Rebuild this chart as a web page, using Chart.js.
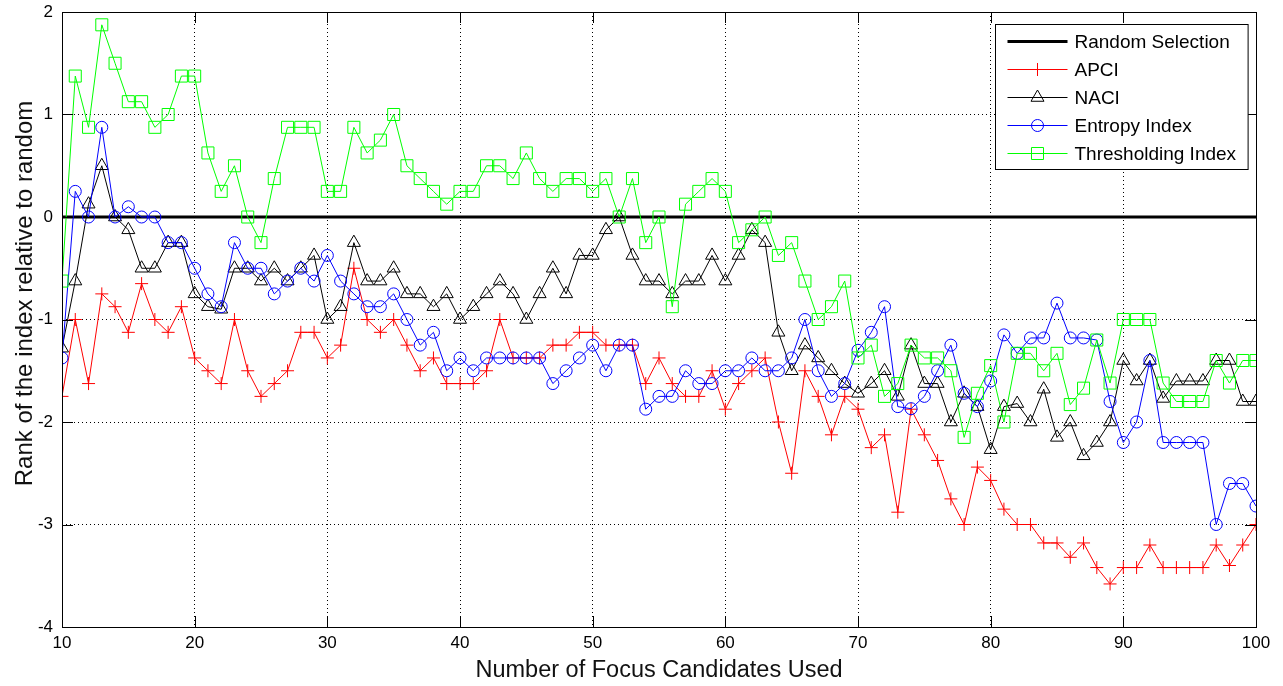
<!DOCTYPE html>
<html>
<head>
<meta charset="utf-8">
<script src="https://cdn.jsdelivr.net/npm/chart.js@4.4.1/dist/chart.umd.min.js"></script>
<style>
  html, body { margin: 0; padding: 0; background: #fff; }
</style>
</head>
<body>
<canvas id="chart" width="1283" height="686"></canvas>
<script>
// number of focus candidates used (x)
var candidates = [10, 11, 12, 13, 14, 15, 16, 17, 18, 19, 20,
  21, 22, 23, 24, 25, 26, 27, 28, 29, 30,
  31, 32, 33, 34, 35, 36, 37, 38, 39, 40,
  41, 42, 43, 44, 45, 46, 47, 48, 49, 50,
  51, 52, 53, 54, 55, 56, 57, 58, 59, 60,
  61, 62, 63, 64, 65, 66, 67, 68, 69, 70,
  71, 72, 73, 74, 75, 76, 77, 78, 79, 80,
  81, 82, 83, 84, 85, 86, 87, 88, 89, 90,
  91, 92, 93, 94, 95, 96, 97, 98, 99, 100];

var randomX = [10, 100];
var randomY = [0, 0];

var apci = [-1.75, -1.0, -1.625, -0.75, -0.875, -1.125, -0.65, -1.0, -1.125, -0.875, -1.375,
  -1.5, -1.625, -1.0, -1.5, -1.75, -1.625, -1.5, -1.125, -1.125, -1.375,
  -1.25, -0.5, -1.0, -1.125, -1.0, -1.25, -1.5, -1.375, -1.625, -1.625,
  -1.625, -1.5, -1.0, -1.375, -1.375, -1.375, -1.25, -1.25, -1.125, -1.125,
  -1.25, -1.25, -1.25, -1.625, -1.375, -1.625, -1.75, -1.75, -1.5, -1.875,
  -1.625, -1.5, -1.375, -2.0, -2.5, -1.5, -1.75, -2.125, -1.75, -1.875,
  -2.25, -2.125, -2.88, -1.875, -2.125, -2.375, -2.75, -3.0, -2.44, -2.57,
  -2.85, -3.0, -3.0, -3.18, -3.18, -3.32, -3.18, -3.42, -3.58, -3.42,
  -3.42, -3.2, -3.42, -3.42, -3.42, -3.42, -3.2, -3.4, -3.2, -3.0];

var naci = [-1.28, -0.625, 0.125, 0.5, 0, -0.125, -0.5, -0.5, -0.25, -0.25, -0.75,
  -0.875, -0.9, -0.5, -0.5, -0.625, -0.5, -0.625, -0.5, -0.375, -1.0,
  -0.875, -0.25, -0.625, -0.625, -0.5, -0.75, -0.75, -0.875, -0.75, -1.0,
  -0.875, -0.75, -0.625, -0.75, -1.0, -0.75, -0.5, -0.75, -0.375, -0.375,
  -0.125, 0, -0.375, -0.625, -0.625, -0.75, -0.625, -0.625, -0.375, -0.625,
  -0.375, -0.125, -0.25, -1.125, -1.5, -1.25, -1.375, -1.5, -1.625, -1.72,
  -1.625, -1.5, -1.75, -1.25, -1.625, -1.625, -2.0, -1.72, -1.85, -2.27,
  -1.85, -1.82, -2.0, -1.68, -2.15, -2.0, -2.33, -2.2, -2.0, -1.4,
  -1.6, -1.4, -1.77, -1.6, -1.6, -1.6, -1.4, -1.4, -1.8, -1.8];

var entropy = [-1.375, 0.25, 0, 0.875, 0, 0.1, 0, 0, -0.25, -0.25, -0.5,
  -0.75, -0.875, -0.25, -0.5, -0.5, -0.75, -0.625, -0.5, -0.625, -0.375,
  -0.625, -0.75, -0.875, -0.875, -0.75, -1.0, -1.25, -1.125, -1.5, -1.375,
  -1.5, -1.375, -1.375, -1.375, -1.375, -1.375, -1.625, -1.5, -1.375, -1.25,
  -1.5, -1.25, -1.25, -1.875, -1.75, -1.75, -1.5, -1.625, -1.625, -1.5,
  -1.5, -1.375, -1.5, -1.5, -1.375, -1.0, -1.5, -1.75, -1.625, -1.3,
  -1.125, -0.875, -1.85, -1.87, -1.75, -1.5, -1.25, -1.72, -1.85, -1.6,
  -1.15, -1.33, -1.18, -1.18, -0.84, -1.18, -1.18, -1.2, -1.8, -2.2,
  -2.0, -1.4, -2.2, -2.2, -2.2, -2.2, -3.0, -2.6, -2.6, -2.82];

var thresholding = [-0.625, 1.375, 0.875, 1.875, 1.5, 1.125, 1.125, 0.875, 1.0, 1.375, 1.375,
  0.625, 0.25, 0.5, 0, -0.25, 0.375, 0.875, 0.875, 0.875, 0.25,
  0.25, 0.875, 0.625, 0.75, 1.0, 0.5, 0.375, 0.25, 0.125, 0.25,
  0.25, 0.5, 0.5, 0.375, 0.625, 0.375, 0.25, 0.375, 0.375, 0.25,
  0.375, 0, 0.375, -0.25, 0, -0.875, 0.125, 0.25, 0.375, 0.25,
  -0.25, -0.125, 0, -0.375, -0.25, -0.625, -1.0, -0.875, -0.625, -1.375,
  -1.25, -1.75, -1.625, -1.25, -1.375, -1.375, -1.5, -2.15, -1.72, -1.45,
  -2.0, -1.33, -1.33, -1.5, -1.33, -1.83, -1.67, -1.2, -1.62, -1.0,
  -1.0, -1.0, -1.62, -1.8, -1.8, -1.8, -1.4, -1.62, -1.4, -1.4];

var xTicks = [10, 20, 30, 40, 50, 60, 70, 80, 90, 100];
var yTicks = [-4, -3, -2, -1, 0, 1, 2];
var yTitle = 'Rank of the index relative to random';

var fontFamily = '"Liberation Sans", Arial, sans-serif';

function pairs(xs, ys) {
  return xs.map(function(x, i) { return { x: x, y: ys[i] }; });
}

// marker drawing for the legend (same shapes as the chart points)
function marker(ctx, style, r, x, y) {
  ctx.beginPath();
  if (style === 'cross') {
    ctx.moveTo(x - r, y); ctx.lineTo(x + r, y);
    ctx.moveTo(x, y - r); ctx.lineTo(x, y + r);
  } else if (style === 'triangle') {
    ctx.moveTo(x, y - r);
    ctx.lineTo(x + Math.sin(Math.PI * 2 / 3) * r, y + r / 2);
    ctx.lineTo(x - Math.sin(Math.PI * 2 / 3) * r, y + r / 2);
    ctx.closePath();
  } else if (style === 'circle') {
    ctx.arc(x, y, r, 0, Math.PI * 2);
  } else if (style === 'rect') {
    var s = r * Math.SQRT1_2;
    ctx.rect(x - s, y - s, 2 * s, 2 * s);
  }
  ctx.stroke();
}

// matlab style box, inward ticks, y label and legend
var axesBox = {
  id: 'axesBox',
  afterDatasetsDraw: function(chart) {
    var ctx = chart.ctx, a = chart.chartArea;
    var xs = chart.scales.x, ys = chart.scales.y;
    var tl = 11;
    ctx.save();
    ctx.strokeStyle = '#000';
    ctx.lineWidth = 1;
    ctx.setLineDash([]);
    ctx.beginPath();
    xTicks.forEach(function(v) {
      var px = Math.round(xs.getPixelForValue(v)) + 0.5;
      ctx.moveTo(px, a.bottom); ctx.lineTo(px, a.bottom - tl);
      ctx.moveTo(px, a.top); ctx.lineTo(px, a.top + tl);
    });
    yTicks.forEach(function(v) {
      var py = Math.round(ys.getPixelForValue(v)) + 0.5;
      ctx.moveTo(a.left, py); ctx.lineTo(a.left + tl, py);
      ctx.moveTo(a.right, py); ctx.lineTo(a.right - tl, py);
    });
    ctx.stroke();
    ctx.strokeRect(Math.round(a.left) + 0.5, Math.round(a.top) + 0.5,
      Math.round(a.right - a.left), Math.round(a.bottom - a.top));
    ctx.restore();
  },
  afterDraw: function(chart) {
    var ctx = chart.ctx, a = chart.chartArea;
    var sets = chart.data.datasets;
    ctx.save();

    // y axis label, sits a bit above the middle like the original
    ctx.save();
    ctx.translate(25, (a.top + a.bottom) / 2 - 26);
    ctx.rotate(-Math.PI / 2);
    ctx.font = '24px ' + fontFamily;
    ctx.fillStyle = '#111';
    ctx.textAlign = 'center';
    ctx.textBaseline = 'middle';
    ctx.fillText(yTitle, 0, 0);
    ctx.restore();

    ctx.font = '19px ' + fontFamily;
    var tw = 0;
    sets.forEach(function(d) { tw = Math.max(tw, ctx.measureText(d.label).width); });
    var rowH = 28;
    var w = 12 + 60 + 7 + tw + 12;
    var h = sets.length * rowH + 5;
    var x0 = Math.round(a.right - 8 - w) + 0.5;
    var y0 = Math.round(a.top + 12) + 0.5;
    ctx.fillStyle = '#fff';
    ctx.fillRect(x0, y0, w, h);
    ctx.strokeStyle = '#000';
    ctx.lineWidth = 1;
    ctx.strokeRect(x0, y0, w, h);
    ctx.textBaseline = 'middle';
    sets.forEach(function(d, i) {
      var cy = Math.round(y0 + 16 + i * rowH) + 0.5;
      ctx.strokeStyle = d.borderColor;
      ctx.lineWidth = d.borderWidth;
      ctx.beginPath();
      ctx.moveTo(x0 + 12, cy); ctx.lineTo(x0 + 72, cy);
      ctx.stroke();
      if (d.pointRadius > 0) {
        ctx.lineWidth = 1;
        marker(ctx, d.pointStyle, d.pointRadius, x0 + 42, cy);
      }
      ctx.fillStyle = '#000';
      ctx.fillText(d.label, x0 + 79, cy + 1);
    });
    ctx.restore();
  }
};

var ctx = document.getElementById('chart').getContext('2d');
var chart = new Chart(ctx, {
  type: 'line',
  data: {
    datasets: [{
      label: 'Random Selection',
      data: pairs(randomX, randomY),
      borderColor: '#000',
      borderWidth: 3,
      pointRadius: 0,
      order: 5
    }, {
      label: 'APCI',
      data: pairs(candidates, apci),
      borderColor: '#ff0000',
      borderWidth: 1,
      pointStyle: 'cross',
      pointRadius: 6.5,
      order: 4
    }, {
      label: 'NACI',
      data: pairs(candidates, naci),
      borderColor: '#000',
      borderWidth: 1,
      pointStyle: 'triangle',
      pointRadius: 7.5,
      order: 3
    }, {
      label: 'Entropy Index',
      data: pairs(candidates, entropy),
      borderColor: '#0000ff',
      borderWidth: 1,
      pointStyle: 'circle',
      pointRadius: 6,
      order: 2
    }, {
      label: 'Thresholding Index',
      data: pairs(candidates, thresholding),
      borderColor: '#00ff00',
      borderWidth: 1,
      pointStyle: 'rect',
      pointRadius: 8.5,
      order: 1
    }]
  },
  options: {
    responsive: false,
    animation: false,
    events: [],
    layout: { padding: { top: 0, right: 27, left: 0, bottom: 0 } },
    elements: {
      line: { tension: 0, fill: false },
      point: { backgroundColor: 'rgba(0,0,0,0)', borderWidth: 1, hoverRadius: 0 }
    },
    datasets: { line: { pointBorderColor: function(c) { return c.dataset.borderColor; } } },
    plugins: { legend: { display: false }, tooltip: { enabled: false } },
    scales: {
      x: {
        type: 'linear',
        min: 10,
        max: 100,
        afterFit: function(s) { s.height = 59; },
        afterBuildTicks: function(s) { s.ticks = xTicks.map(function(v) { return { value: v }; }); },
        grid: { color: '#000', lineWidth: 1, drawTicks: false },
        border: { display: false, dash: [1, 3] },
        ticks: { color: '#000', padding: 6, maxRotation: 0, font: { family: fontFamily, size: 17 } },
        title: {
          display: true,
          text: 'Number of Focus Candidates Used',
          color: '#111',
          padding: { top: 0, bottom: 1 },
          font: { family: fontFamily, size: 23.5 }
        }
      },
      y: {
        min: -4,
        max: 2,
        afterFit: function(s) { s.width = 62; s.paddingTop = 12; s.paddingBottom = 0; },
        afterBuildTicks: function(s) { s.ticks = yTicks.map(function(v) { return { value: v }; }); },
        grid: { color: '#000', lineWidth: 1, drawTicks: false },
        border: { display: false, dash: [1, 3] },
        ticks: { color: '#000', padding: 9, font: { family: fontFamily, size: 17 } },
        title: { display: false }
      }
    }
  },
  plugins: [axesBox]
});
</script>
</body>
</html>
